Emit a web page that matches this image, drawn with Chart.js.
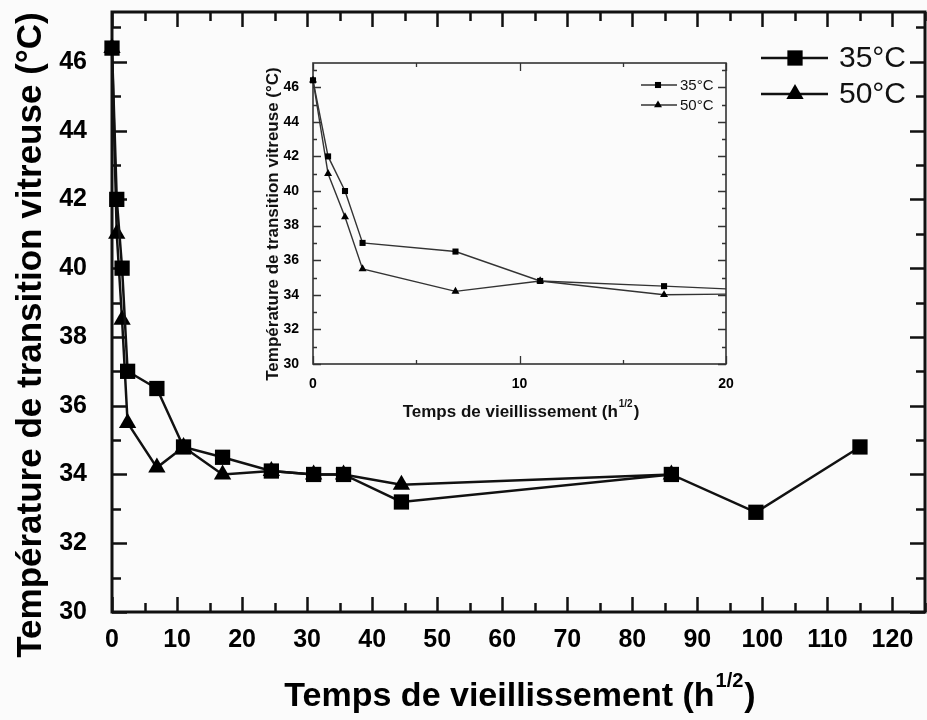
<!DOCTYPE html>
<html lang="fr">
<head>
<meta charset="UTF-8">
<title>Température de transition vitreuse</title>
<script src="https://cdn.jsdelivr.net/npm/chart.js@4.4.1/dist/chart.umd.min.js"></script>
<style>
  body { margin: 0; background: #fbfbfb; }
  #wrap { position: relative; width: 927px; height: 720px; }
  #mainChart { position: absolute; left: 0; top: 0; }
  #inset { position: absolute; left: 255px; top: 50px; width: 485px; height: 380px; }
</style>
</head>
<body>
<div id="wrap">
  <canvas id="mainChart" width="927" height="720"></canvas>
  <div id="inset"><canvas id="insetChart" width="485" height="380"></canvas></div>
</div>
<script>
// square root of ageing time (h^1/2)
const time35 = [0, 0.73, 1.55, 2.4, 6.9, 11, 17, 24.5, 31, 35.6, 44.5, 86, 99, 115];
const tg35   = [46.4, 42, 40, 37, 36.5, 34.8, 34.5, 34.1, 34.0, 34.0, 33.2, 34.0, 32.9, 34.8];
const time50 = [0, 0.73, 1.55, 2.4, 6.9, 11, 17, 24.5, 31, 35.6, 44.5, 86];
const tg50   = [46.4, 41, 38.5, 35.5, 34.2, 34.8, 34.0, 34.1, 34.0, 34.0, 33.7, 34.0];
const seriesLabels = ['35°C', '50°C'];
const mainXTicks = [0, 10, 20, 30, 40, 50, 60, 70, 80, 90, 100, 110, 120];
const insetXTicks = [0, 10, 20];
const yTicks = [30, 32, 34, 36, 38, 40, 42, 44, 46];
const xTitle = ['Temps de vieillissement (h', '1/2', ')'];
const yTitle = 'Température de transition vitreuse (°C)';

const FONT = '"Liberation Sans", Arial, sans-serif';
const toPoints = (xs, ys) => xs.map((x, i) => ({ x: x, y: ys[i] }));

// frame + inward ticks (major and minor) on all four sides
function drawFrame(chart, o) {
  const { ctx, chartArea: a, scales: { x, y } } = chart;
  ctx.save();
  ctx.strokeStyle = o.color;
  ctx.lineWidth = o.tickWidth;
  ctx.beginPath();
  for (let v = x.min; v <= x.max + 1e-9; v += o.xMinor) {
    const px = Math.round(x.getPixelForValue(v)) + 0.5;
    const len = Math.abs(v / o.xMajor - Math.round(v / o.xMajor)) < 1e-6 ? o.major : o.minor;
    ctx.moveTo(px, a.bottom); ctx.lineTo(px, a.bottom - len);
    ctx.moveTo(px, a.top); ctx.lineTo(px, a.top + len);
  }
  for (let v = y.min; v <= y.max + 1e-9; v += o.yMinor) {
    const py = Math.round(y.getPixelForValue(v)) + 0.5;
    const len = Math.abs((v - y.min) / o.yMajor - Math.round((v - y.min) / o.yMajor)) < 1e-6 ? o.major : o.minor;
    ctx.moveTo(a.left, py); ctx.lineTo(a.left + len, py);
    ctx.moveTo(a.right, py); ctx.lineTo(a.right - len, py);
  }
  ctx.stroke();
  ctx.lineWidth = o.frameWidth;
  ctx.strokeRect(a.left, a.top, a.right - a.left, a.bottom - a.top);
  ctx.restore();
}

function drawTitles(chart, o) {
  const ctx = chart.ctx;
  ctx.save();
  ctx.fillStyle = o.color;
  ctx.textBaseline = 'middle';
  // x title with superscript
  const supSize = Math.round(o.xSize * 0.6);
  ctx.font = 'bold ' + o.xSize + 'px ' + FONT;
  const w1 = ctx.measureText(xTitle[0]).width;
  const w3 = ctx.measureText(xTitle[2]).width;
  ctx.font = 'bold ' + supSize + 'px ' + FONT;
  const w2 = ctx.measureText(xTitle[1]).width;
  let sx = o.xTitle[0] - (w1 + w2 + w3) / 2;
  ctx.font = 'bold ' + o.xSize + 'px ' + FONT;
  ctx.textAlign = 'left';
  ctx.fillText(xTitle[0], sx, o.xTitle[1]);
  ctx.font = 'bold ' + supSize + 'px ' + FONT;
  ctx.fillText(xTitle[1], sx + w1 + 1, o.xTitle[1] - o.xSize * 0.45);
  ctx.font = 'bold ' + o.xSize + 'px ' + FONT;
  ctx.fillText(xTitle[2], sx + w1 + w2 + 2, o.xTitle[1]);
  // y title
  ctx.font = 'bold ' + o.ySize + 'px ' + FONT;
  ctx.translate(o.yTitle[0], o.yTitle[1]);
  ctx.rotate(-Math.PI / 2);
  ctx.textAlign = 'center';
  ctx.fillText(yTitle, 0, 0);
  ctx.restore();
}

function drawLegend(chart, o) {
  const ctx = chart.ctx;
  ctx.save();
  chart.data.datasets.forEach((ds, i) => {
    const yy = o.rows[i];
    ctx.strokeStyle = ds.borderColor;
    ctx.lineWidth = ds.borderWidth;
    ctx.beginPath();
    ctx.moveTo(o.x0, yy); ctx.lineTo(o.x1, yy);
    ctx.stroke();
    ctx.fillStyle = ds.pointBackgroundColor;
    Chart.helpers.drawPoint(ctx, { pointStyle: ds.pointStyle, radius: ds.pointRadius, borderWidth: 0, rotation: 0 }, o.xm, yy);
    ctx.fillStyle = '#111';
    ctx.font = o.size + 'px ' + FONT;
    ctx.textAlign = 'left';
    ctx.textBaseline = 'middle';
    ctx.fillText(seriesLabels[i], o.xt, yy + 1);
  });
  ctx.restore();
}

const decorPlugin = {
  id: 'decor',
  beforeDatasetsDraw(chart, args, opts) { drawFrame(chart, opts.frame); },
  afterDraw(chart, args, opts) {
    drawTitles(chart, opts.titles);
    drawLegend(chart, opts.legend);
  }
};

function makeDatasets(lineW, lineColor, rSquare, rTriangle, clip) {
  return [{
    label: seriesLabels[0],
    data: toPoints(time35, tg35),
    borderColor: lineColor, borderWidth: lineW,
    pointStyle: 'rect', pointRadius: rSquare,
    pointBackgroundColor: '#000', pointBorderWidth: 0,
    tension: 0, clip: clip
  }, {
    label: seriesLabels[1],
    data: toPoints(time50, tg50),
    borderColor: lineColor, borderWidth: lineW,
    pointStyle: 'triangle', pointRadius: rTriangle,
    pointBackgroundColor: '#000', pointBorderWidth: 0,
    tension: 0, clip: clip
  }];
}

function axisOptions(xMax, yMax, xTicks, tickFont, xPad, yPad, yWidth, xHeight) {
  return {
    x: {
      type: 'linear', min: 0, max: xMax,
      grid: { display: false }, border: { display: false },
      ticks: { padding: xPad, color: '#000', font: tickFont, maxRotation: 0, autoSkip: false },
      afterBuildTicks: s => { s.ticks = xTicks.map(v => ({ value: v })); },
      afterFit: s => { s.height = xHeight; s.paddingLeft = 0; s.paddingRight = 0; }
    },
    y: {
      type: 'linear', min: 30, max: yMax,
      grid: { display: false }, border: { display: false },
      ticks: { padding: yPad, color: '#000', font: tickFont, autoSkip: false },
      afterBuildTicks: s => { s.ticks = yTicks.map(v => ({ value: v })); },
      afterFit: s => { s.width = yWidth; s.paddingTop = 0; s.paddingBottom = 0; }
    }
  };
}

Chart.defaults.font.family = FONT;

new Chart(document.getElementById('mainChart'), {
  type: 'line',
  data: { datasets: makeDatasets(2.5, '#111', 10.8, 10, false) },
  options: {
    responsive: false, animation: false, devicePixelRatio: 1,
    layout: { autoPadding: false, padding: { left: 0, top: 12, right: 2, bottom: 0 } },
    scales: axisOptions(125, 47.45, mainXTicks, { size: 25, weight: 'bold' }, 5, 17, 112, 108),
    plugins: {
      legend: { display: false }, tooltip: { enabled: false },
      decor: {
        frame: { color: '#111', tickWidth: 2.5, frameWidth: 3, major: 15, minor: 9, xMinor: 5, xMajor: 10, yMinor: 1, yMajor: 2 },
        titles: { color: '#000', xSize: 34, ySize: 35, xTitle: [519, 697], yTitle: [31, 335] },
        legend: { rows: [58, 94], x0: 761, x1: 828, xm: 795, xt: 839, size: 30 }
      }
    }
  },
  plugins: [decorPlugin]
});

new Chart(document.getElementById('insetChart'), {
  type: 'line',
  data: { datasets: makeDatasets(1.4, '#333', 4.3, 4.6, { left: 6, top: 6, right: 0, bottom: 0 }) },
  options: {
    responsive: false, animation: false, devicePixelRatio: 1,
    layout: { autoPadding: false, padding: { left: 0, top: 13, right: 14, bottom: 0 } },
    scales: axisOptions(20, 47.4, insetXTicks, { size: 14, weight: 'bold' }, 4, 6, 58, 66),
    plugins: {
      legend: { display: false }, tooltip: { enabled: false },
      decor: {
        frame: { color: '#333', tickWidth: 1.3, frameWidth: 1.6, major: 8, minor: 4, xMinor: 5, xMajor: 10, yMinor: 1, yMajor: 2 },
        titles: { color: '#111', xSize: 17, ySize: 17, xTitle: [265, 362], yTitle: [18, 174] },
        legend: { rows: [35, 55], x0: 386, x1: 422, xm: 403, xt: 425, size: 15 }
      }
    }
  },
  plugins: [decorPlugin]
});
</script>
</body>
</html>
